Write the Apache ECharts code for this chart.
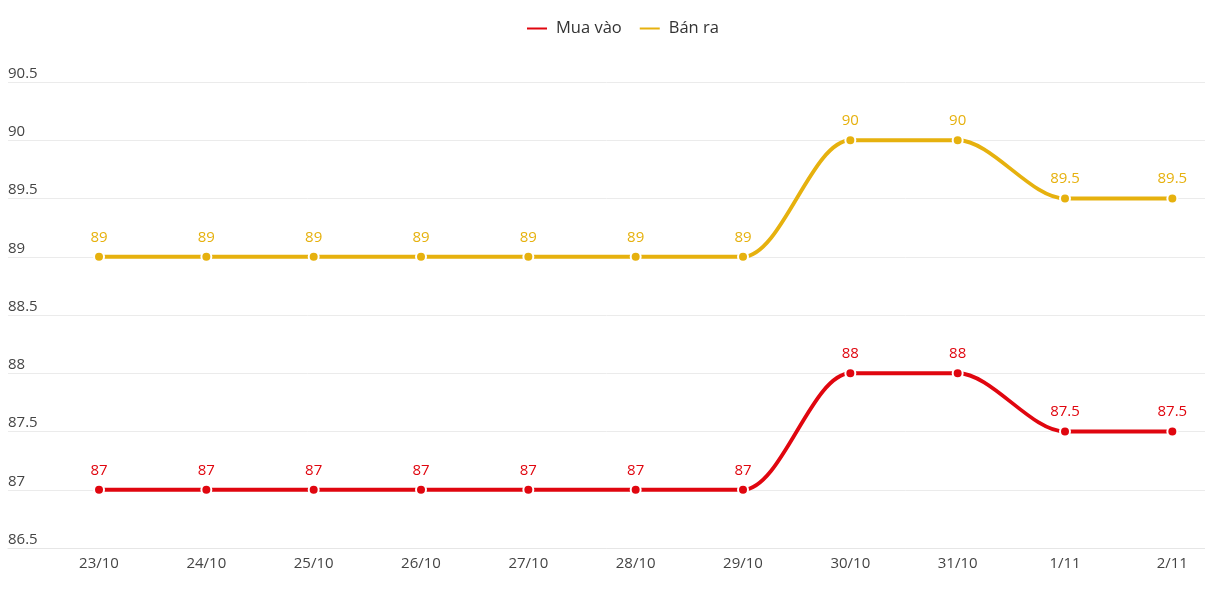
<!DOCTYPE html>
<html>
<head>
<meta charset="utf-8">
<script src="https://cdn.jsdelivr.net/npm/echarts@6/dist/echarts.min.js"></script>
<style>html,body{margin:0;padding:0;background:#fff;overflow:hidden;width:1205px;height:611px}#c{width:1226px;height:611px}</style>
</head>
<body>
<div id="c"></div>
<script>
const categories = ['23/10','24/10','25/10','26/10','27/10','28/10','29/10','30/10','31/10','1/11','2/11'];
const muaVao = [87,87,87,87,87,87,87,88,88,87.5,87.5];
const banRa = [89,89,89,89,89,89,89,90,90,89.5,89.5];
const yMin = 86.5, yMax = 90.5, yStep = 0.5;

const RED = '#e0060f', YEL = '#e6b10e';
const FONT = '"Open Sans", "Noto Sans", sans-serif';

const chart = echarts.init(document.getElementById('c'));
function series(name, data, color) {
  return {
    name, type: 'line', data, xAxisIndex: 1, yAxisIndex: 1,
    smooth: 0.3,
    symbol: 'circle', symbolSize: 10,
    lineStyle: { width: 3.8, color },
    itemStyle: { color, borderColor: '#fff', borderWidth: 2 },
    label: { show: true, position: 'top', distance: 6, color, fontSize: 15, fontFamily: FONT },
    emphasis: { disabled: true }
  };
}
chart.setOption({
  animation: false,
  textStyle: { fontFamily: FONT },
  legend: {
    top: 15, left: 520, itemWidth: 22, itemHeight: 4, itemGap: 16,
    icon: 'rect',
    textStyle: { fontSize: 16.5, color: '#333', fontFamily: FONT, padding: [0,0,0,3] },
    data: ['Mua vào', 'Bán ra']
  },
  grid: [
    { left: 8, right: 21, top: 82, bottom: 63 },
    { left: 45.35, right: 0, top: 82, bottom: 63 }
  ],
  xAxis: [
    { gridIndex: 0, type: 'value', min: 0, max: 1, axisLabel: { show: false }, axisTick: { show: false },
      splitLine: { show: false }, axisLine: { show: true, lineStyle: { color: '#e6e6e6', width: 1 } } },
    { gridIndex: 1, type: 'category', data: categories, boundaryGap: true,
      axisLine: { show: false }, axisTick: { show: false }, splitLine: { show: false },
      axisLabel: { color: '#444', fontSize: 15, margin: 8, fontFamily: FONT } }
  ],
  yAxis: [
    { gridIndex: 0, type: 'value', min: yMin, max: yMax, interval: yStep,
      axisLine: { show: false }, axisTick: { show: false },
      splitLine: { lineStyle: { color: '#ebebeb', width: 1 } },
      axisLabel: { inside: true, margin: 0, verticalAlign: 'bottom', padding: [0,0,1,0], color: '#444', fontSize: 15, fontFamily: FONT,
        formatter: v => String(+v.toFixed(1)) } },
    { gridIndex: 1, type: 'value', min: yMin, max: yMax, show: false, splitLine: { show: false } }
  ],
  series: [ series('Mua vào', muaVao, RED), series('Bán ra', banRa, YEL) ]
});
</script>
</body>
</html>
